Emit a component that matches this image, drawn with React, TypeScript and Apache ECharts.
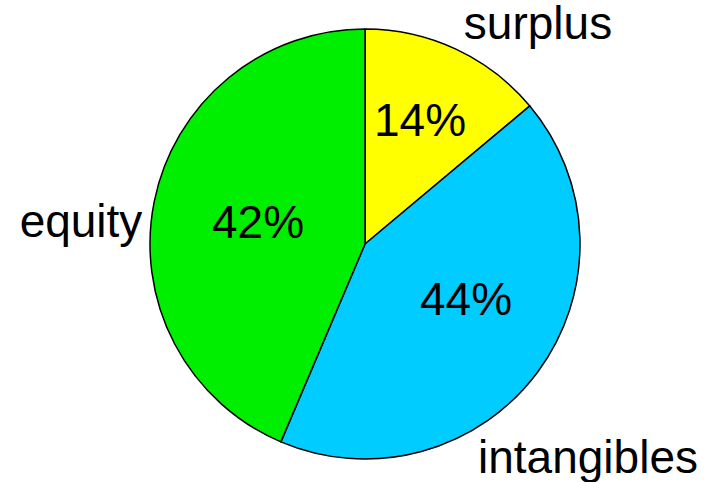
import React, { useEffect, useRef } from "react";
import * as echarts from "echarts";

const categories = ["surplus", "intangibles", "equity"];
const values = [13.9, 42.5, 43.6];
const percentLabels = ["14%", "44%", "42%"];
const colors = ["#FFFF00", "#00CCFF", "#00EE00"];

// label anchor positions (layout only)
const innerLabelXY = [
  [420, 120],
  [466, 299],
  [258, 222],
];
const outerLabelXY = [
  [538, 23],
  [588, 457],
  [81, 221],
];

export default function App() {
  const ref = useRef<HTMLDivElement>(null);
  useEffect(() => {
    document.body.style.margin = "0";
    const chart = echarts.init(ref.current!, null, { renderer: "svg" });
    const font = "'Liberation Sans', Arial, sans-serif";
    chart.setOption({
      animation: false,
      backgroundColor: "#ffffff",
      series: [
        {
          type: "pie",
          center: [365, 244],
          radius: [0, 215],
          startAngle: 90,
          clockwise: true,
          silent: true,
          data: categories.map((c, i) => ({
            name: c,
            value: values[i],
            itemStyle: { color: colors[i] },
          })),
          itemStyle: { borderColor: "#000000", borderWidth: 1.5 },
          label: {
            show: true,
            position: "inside",
            formatter: (p: any) => percentLabels[p.dataIndex],
            fontFamily: font,
            fontSize: 46,
            color: "#000000",
            overflow: "none",
          },
          labelLine: { show: false },
          labelLayout: (p: any) => ({
            x: innerLabelXY[p.dataIndex][0],
            y: innerLabelXY[p.dataIndex][1],
            align: "center",
            verticalAlign: "middle",
          }),
        },
        {
          type: "pie",
          center: [365, 244],
          radius: [0, 215],
          startAngle: 90,
          clockwise: true,
          silent: true,
          data: categories.map((c, i) => ({ name: c, value: values[i] })),
          itemStyle: { color: "transparent", borderWidth: 0 },
          label: {
            show: true,
            position: "outside",
            formatter: "{b}",
            fontFamily: font,
            fontSize: 46,
            lineHeight: 36,
            color: "#000000",
            overflow: "none",
            edgeDistance: 0,
            width: 400,
          },
          labelLine: { show: false },
          labelLayout: (p: any) => ({
            x: outerLabelXY[p.dataIndex][0],
            y: outerLabelXY[p.dataIndex][1],
            align: "center",
            verticalAlign: "middle",
          }),
        },
      ],
    });
    return () => chart.dispose();
  }, []);
  return <div ref={ref} style={{ width: 717, height: 482 }} />;
}
